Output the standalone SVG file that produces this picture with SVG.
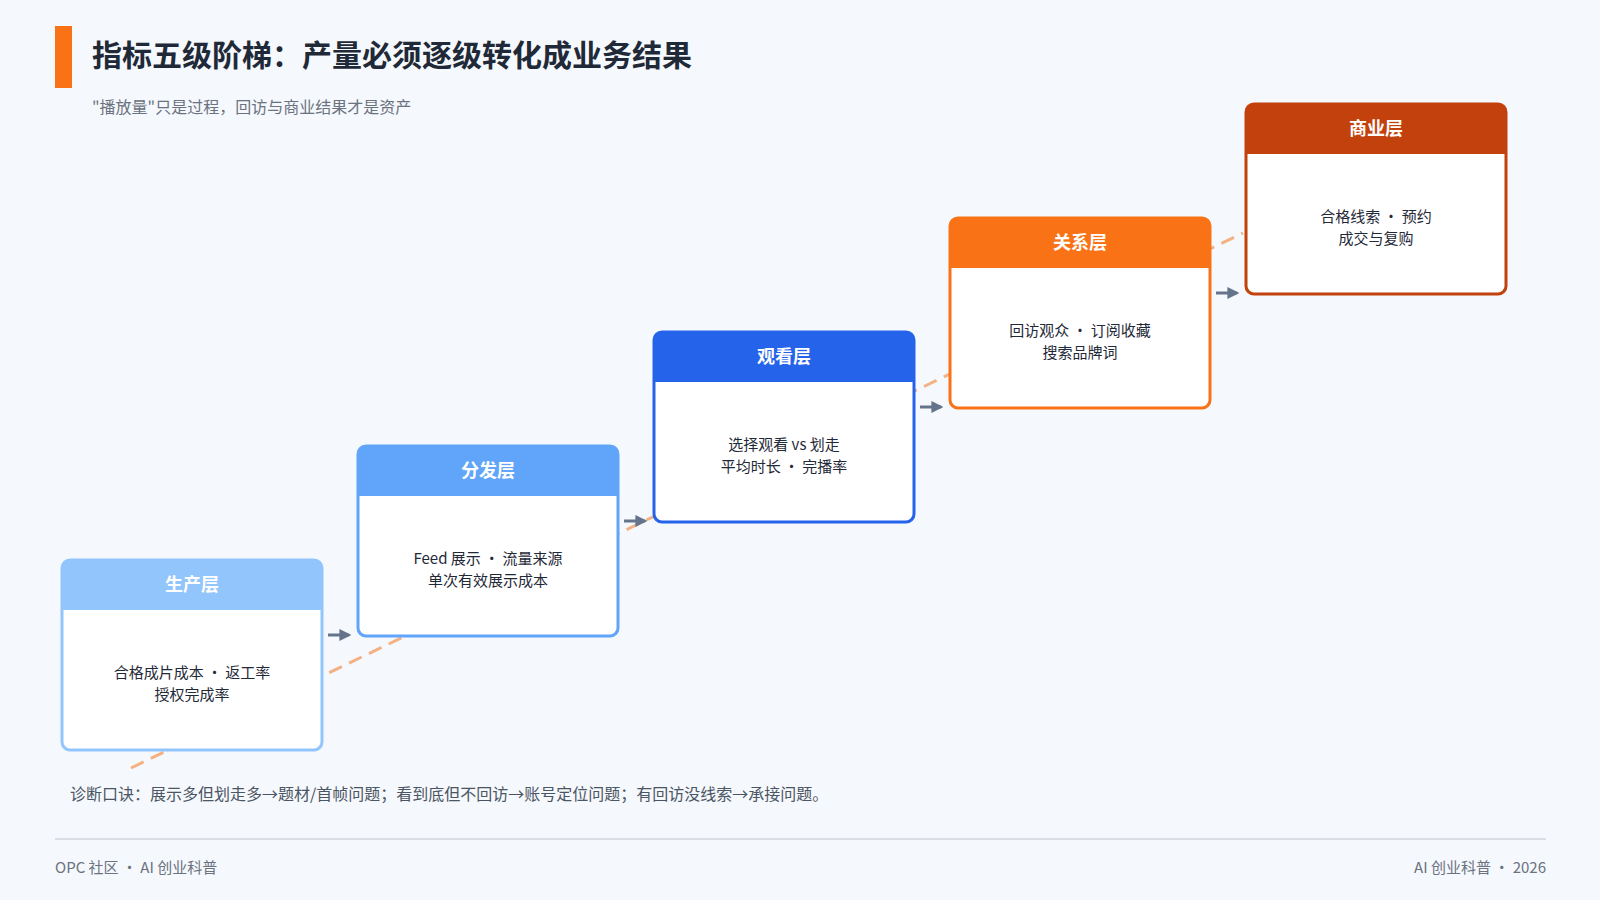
<svg xmlns="http://www.w3.org/2000/svg" width="1600" height="900" viewBox="0 0 1600 900">
<defs>
<style>
text{font-family:"Noto Sans CJK SC","Noto Sans",sans-serif}
.hd{font-size:18px;font-weight:bold;fill:#fff;text-anchor:middle}
.bd{font-size:15px;fill:#1f2937;text-anchor:middle}
.box{fill:#fff;stroke-width:3}
.arr{stroke:#64748b;stroke-width:3;fill:none}
</style>
<marker id="ah" viewBox="0 0 10 10" refX="8" refY="5" markerWidth="4" markerHeight="4" orient="auto"><path d="M0,0L10,5L0,10z" fill="#64748b"/></marker>
</defs>
<rect width="1600" height="900" fill="#f5f8fc"/>
<rect x="55" y="26" width="17" height="62" fill="#f97316"/>
<text x="92" y="66" font-size="30" font-weight="bold" fill="#1f2937">指标五级阶梯：产量必须逐级转化成业务结果</text>
<text x="92" y="113" font-size="16" fill="#6b7280">"播放量"只是过程，回访与商业结果才是资产</text>
<g id="connectors">
<line x1="131" y1="768" x2="1243" y2="233" stroke="#f4b183" stroke-width="3" stroke-dasharray="14,8"/>
<line class="arr" x1="328" y1="635" x2="349" y2="635" marker-end="url(#ah)"/>
<line class="arr" x1="624" y1="521" x2="645" y2="521" marker-end="url(#ah)"/>
<line class="arr" x1="920" y1="407" x2="941" y2="407" marker-end="url(#ah)"/>
<line class="arr" x1="1216" y1="293" x2="1237" y2="293" marker-end="url(#ah)"/>
</g>
<g id="n1">
<rect class="box" x="62" y="560" width="260" height="190" rx="8" stroke="#93c5fd"/>
<path d="M62,610V568a8,8 0 0 1 8-8H314a8,8 0 0 1 8,8V610z" fill="#93c5fd"/>
<text class="hd" x="192" y="591">生产层</text>
<text class="bd" x="192" y="678">合格成片成本 · 返工率</text>
<text class="bd" x="192" y="700">授权完成率</text>
</g>
<g id="n2">
<rect class="box" x="358" y="446" width="260" height="190" rx="8" stroke="#60a5fa"/>
<path d="M358,496V454a8,8 0 0 1 8-8H610a8,8 0 0 1 8,8V496z" fill="#60a5fa"/>
<text class="hd" x="488" y="477">分发层</text>
<text class="bd" x="488" y="564">Feed 展示 · 流量来源</text>
<text class="bd" x="488" y="586">单次有效展示成本</text>
</g>
<g id="n3">
<rect class="box" x="654" y="332" width="260" height="190" rx="8" stroke="#2563eb"/>
<path d="M654,382V340a8,8 0 0 1 8-8H906a8,8 0 0 1 8,8V382z" fill="#2563eb"/>
<text class="hd" x="784" y="363">观看层</text>
<text class="bd" x="784" y="450">选择观看 vs 划走</text>
<text class="bd" x="784" y="472">平均时长 · 完播率</text>
</g>
<g id="n4">
<rect class="box" x="950" y="218" width="260" height="190" rx="8" stroke="#f97316"/>
<path d="M950,268V226a8,8 0 0 1 8-8H1202a8,8 0 0 1 8,8V268z" fill="#f97316"/>
<text class="hd" x="1080" y="249">关系层</text>
<text class="bd" x="1080" y="336">回访观众 · 订阅收藏</text>
<text class="bd" x="1080" y="358">搜索品牌词</text>
</g>
<g id="n5">
<rect class="box" x="1246" y="104" width="260" height="190" rx="8" stroke="#c2410c"/>
<path d="M1246,154V112a8,8 0 0 1 8-8H1498a8,8 0 0 1 8,8V154z" fill="#c2410c"/>
<text class="hd" x="1376" y="135">商业层</text>
<text class="bd" x="1376" y="222">合格线索 · 预约</text>
<text class="bd" x="1376" y="244">成交与复购</text>
</g>
<text x="70" y="800" font-size="16" fill="#4b5563">诊断口诀：展示多但划走多→题材/首帧问题；看到底但不回访→账号定位问题；有回访没线索→承接问题。</text>
<line x1="55" y1="839" x2="1546" y2="839" stroke="#d1d5db" stroke-width="1.5"/>
<text x="55" y="873" font-size="15" fill="#6b7280">OPC 社区 · AI 创业科普</text>
<text x="1546" y="873" font-size="15" fill="#6b7280" text-anchor="end">AI 创业科普 · 2026</text>
</svg>
